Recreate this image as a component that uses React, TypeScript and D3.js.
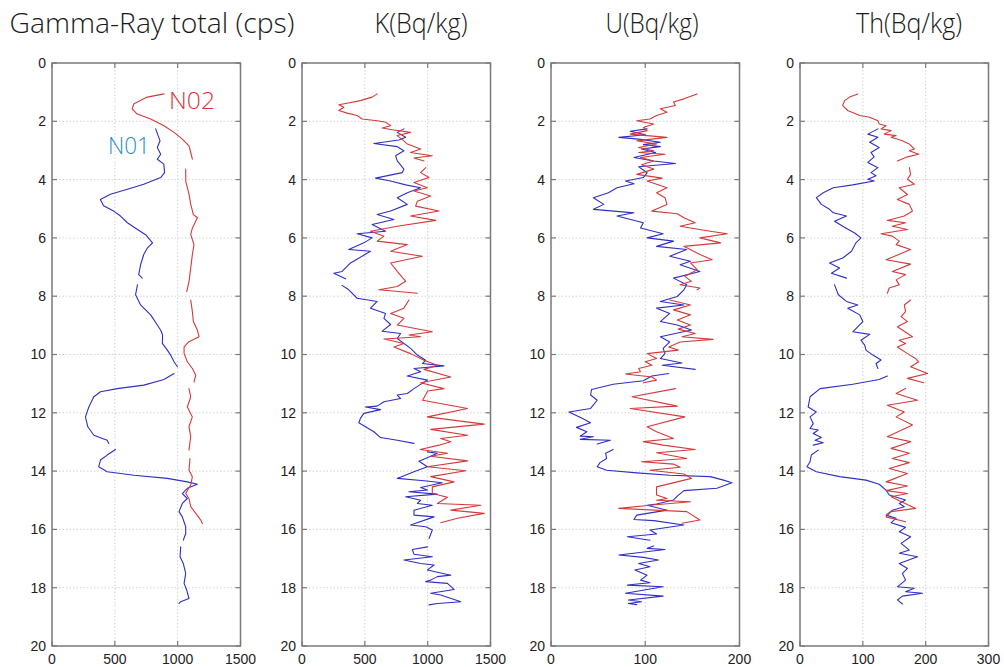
import React from 'react';
import * as d3 from 'd3';

type P = [number, number] | null;

// ---------- text / axes ----------
const titles = ['Gamma-Ray total (cps)', 'K(Bq/kg)', 'U(Bq/kg)', 'Th(Bq/kg)'];
const xMaxes = [1500, 1500, 200, 300];
const xTickValues = [
  [0, 500, 1000, 1500],
  [0, 500, 1000, 1500],
  [0, 100, 200],
  [0, 100, 200, 300],
];
const depthTicks = [0, 2, 4, 6, 8, 10, 12, 14, 16, 18, 20];
const seriesNames = ['N01', 'N02'];

// ---------- data: [depth, value], null = gap ----------
const grN01: P[] = [
  [2.26, 825], [2.67, 860], [2.9, 838], [3.13, 865], [3.3, 838], [3.47, 890], [3.76, 896], [3.93, 865],
  [4.16, 730], [4.33, 600], [4.5, 465], [4.68, 385], [4.9, 410], [5.08, 490], [5.25, 545], [5.48, 600],
  [5.71, 680], [5.89, 745], [6.17, 800], [6.34, 760], [6.57, 730], [6.92, 705], [7.26, 690], [7.38, 718],
  null,
  [7.61, 680], [7.95, 665], [8.3, 705], [8.64, 785], [8.99, 838], [9.17, 865], [9.33, 880], [9.62, 878],
  [9.85, 918], [10.02, 944], [10.25, 971], [10.42, 998],
  null,
  [10.65, 971], [10.86, 891], [11.05, 731], [11.17, 519], [11.28, 386], [11.45, 333], [11.8, 293],
  [12.14, 266], [12.48, 285], [12.77, 333], [12.94, 439], [13.05, 452],
  null,
  [13.26, 505], [13.45, 439], [13.62, 386], [13.85, 372], [14.02, 439], [14.14, 652], [14.25, 918],
  [14.37, 1077], [14.45, 1157], [14.59, 1077], [14.77, 1037], [14.94, 1077], [15.11, 1037], [15.39, 1011],
  [15.57, 1037], [15.91, 1064], [16.14, 1064], [16.37, 1045],
  null,
  [16.6, 1024], [16.94, 1019], [17.17, 1045], [17.51, 1064], [17.85, 1051], [18.08, 1072], [18.37, 1090],
  [18.48, 1024], [18.54, 1011],
];
const grN02: P[] = [
  [1.06, 891], [1.17, 758], [1.4, 652], [1.57, 638], [1.75, 678], [1.92, 785], [2.15, 891], [2.38, 971],
  [2.61, 1037], [2.84, 1090], [3.07, 1104], [3.3, 1117],
  null,
  [3.64, 1064], [4.05, 1064], [4.5, 1090], [4.85, 1104], [5.2, 1125], [5.31, 1157], [5.66, 1117],
  [5.89, 1104], [6.23, 1130], [6.57, 1117], [7.03, 1104], [7.5, 1090], [7.84, 1072],
  null,
  [8.13, 1104], [8.53, 1117], [8.87, 1125], [9.17, 1157], [9.39, 1170], [9.56, 1090], [9.74, 1051],
  [9.97, 1051], [10.25, 1077], [10.48, 1117], [10.71, 1144], [10.94, 1130],
  null,
  [11.17, 1090], [11.45, 1104], [11.8, 1077], [12.14, 1117], [12.48, 1090], [12.82, 1104], [13.28, 1090],
  null,
  [13.57, 1098], [13.97, 1090], [14.19, 1117], [14.48, 1104], [14.77, 1064], [14.94, 1090], [15.22, 1104],
  [15.45, 1144], [15.68, 1184], [15.8, 1197],
];

const kN01: P[] = [
  [2.26, 811], [2.38, 758], [2.55, 825], [2.64, 771], [2.76, 572], [2.87, 758], [3.01, 811], [3.18, 745],
  [3.36, 758], [3.64, 811], [3.76, 798], [3.95, 585], [4.05, 705], [4.18, 825], [4.28, 944], [4.45, 838],
  [4.62, 758], [4.85, 838], [5.08, 705], [5.2, 598], [5.37, 731], [5.54, 558], [5.77, 665], [5.86, 439],
  [6.0, 558], [6.17, 492], [6.4, 372], [6.46, 545], [6.86, 386], [7.15, 319], [7.21, 253], [7.4, 346],
  null,
  [7.63, 319], [7.78, 372], [8.07, 439], [8.18, 598], [8.41, 545], [8.59, 665], [8.76, 652], [8.97, 705],
  [9.2, 638], [9.28, 785], [9.45, 758], [9.79, 864], [10.02, 918], [10.2, 984], [10.31, 958], [10.39, 1130],
  [10.48, 891], [10.59, 944], [10.74, 838], [10.88, 998], [11.17, 891], [11.34, 838], [11.39, 758],
  [11.51, 785], [11.62, 652], [11.77, 598], [11.8, 505], [11.89, 625], [12.02, 492], [12.19, 465],
  [12.34, 452], [12.48, 505], [12.65, 572], [12.85, 625], [12.94, 758], [13.05, 891],
  null,
  [13.34, 998], [13.39, 1077], [13.49, 1024], [13.66, 931], [13.85, 998], [14.02, 891], [14.25, 758],
  [14.33, 971], [14.4, 1117], [14.56, 944], [14.65, 998], [14.71, 851], [14.79, 1077], [14.88, 825],
  [15.0, 944], [15.11, 918], [15.17, 1037], [15.34, 891], [15.51, 891], [15.57, 1051], [15.85, 864],
  [15.91, 984], [16.02, 1037], [16.31, 1011],
  null,
  [16.6, 998], [16.69, 878], [16.85, 891], [16.94, 1037], [17.05, 811], [17.17, 944], [17.22, 1051],
  [17.39, 998], [17.57, 1184], [17.62, 1077], [17.74, 1024], [17.79, 984], [17.85, 1157], [18.06, 1210],
  [18.19, 1024], [18.25, 1104], [18.48, 1264], [18.54, 1077], [18.59, 1011],
];
const kN02: P[] = [
  [1.06, 598], [1.17, 558], [1.29, 465], [1.38, 359], [1.43, 293], [1.52, 333], [1.63, 293], [1.72, 359],
  [1.8, 439], [1.92, 479], [1.98, 598], [2.03, 665], [2.15, 705], [2.23, 638], [2.3, 731], [2.38, 864],
  [2.49, 758], [2.67, 811], [2.78, 838], [2.95, 944], [3.07, 864], [3.18, 1037], [3.26, 891], [3.36, 971],
  null,
  [3.59, 984], [3.76, 944], [3.93, 1011], [4.1, 891], [4.28, 997], [4.39, 891], [4.56, 1024], [4.74, 918],
  [4.91, 904], [5.08, 1090], [5.25, 864], [5.4, 1064], [5.6, 758], [5.77, 545], [5.94, 652], [6.11, 598],
  [6.23, 838], [6.46, 705], [6.63, 958], [6.86, 705], [7.15, 758], [7.49, 825], [7.67, 758], [7.78, 612],
  [7.9, 918],
  null,
  [8.13, 851], [8.41, 811], [8.59, 705], [8.76, 811], [8.99, 758], [9.22, 1037], [9.33, 851], [9.39, 944],
  [9.47, 652], [9.62, 811], [9.74, 731], [9.97, 864], [10.2, 971], [10.37, 1077], [10.51, 971],
  [10.77, 1184], [10.97, 944], [11.17, 1130], [11.25, 1000], [11.57, 960], [11.85, 1317], [12.14, 998],
  [12.39, 1450], [12.57, 1024], [12.77, 1317], [12.88, 1104], [12.99, 1184], [13.11, 1090], [13.26, 940],
  [13.39, 1157], [13.49, 1024], [13.65, 1317], [13.85, 998], [13.99, 1303], [14.19, 1024], [14.37, 1210],
  [14.54, 1037], [14.77, 1037], [14.9, 1157], [15.11, 1077], [15.17, 1423], [15.34, 1184], [15.45, 1450],
  [15.62, 1237], [15.77, 1104],
];

const uN01: P[] = [
  [2.26, 102], [2.34, 84], [2.46, 100], [2.55, 72], [2.61, 93], [2.72, 116], [2.8, 98], [2.87, 116],
  [2.95, 96], [3.07, 111], [3.24, 88], [3.36, 109], [3.45, 132], [3.56, 93], [3.76, 102], [3.93, 98],
  [4.05, 79], [4.14, 88], [4.28, 70], [4.45, 61], [4.62, 45], [4.85, 56], [5.02, 45], [5.14, 88],
  [5.25, 70], [5.48, 98], [5.66, 95], [5.86, 119], [6.0, 102], [6.11, 130], [6.29, 112], [6.4, 144],
  [6.63, 126], [6.8, 148], [6.92, 137], [7.15, 158], [7.38, 130], [7.61, 144], [7.78, 141], [8.01, 134],
  [8.18, 116], [8.3, 141], [8.41, 112], [8.59, 126], [8.87, 116], [8.99, 134], [9.16, 149], [9.39, 116],
  [9.57, 126], [9.79, 119], [9.97, 121], [10.14, 116], [10.29, 139], [10.37, 118], [10.51, 153],
  null,
  [10.65, 125], [10.74, 107], [10.9, 98], [11.02, 66], [11.2, 43], [11.39, 42], [11.57, 49], [11.85, 42],
  [11.97, 19], [12.19, 33], [12.34, 42], [12.5, 27], [12.65, 38], [12.8, 31], [12.82, 45], [12.91, 31],
  [12.94, 63], [13.07, 49],
  null,
  [13.26, 66], [13.39, 58], [13.57, 59], [13.71, 52], [13.85, 49], [13.97, 59], [14.06, 91], [14.14, 126],
  [14.19, 169], [14.31, 183], [14.4, 192], [14.59, 176], [14.67, 141], [14.86, 134], [14.99, 130],
  [15.13, 112], [15.17, 102], [15.34, 123], [15.51, 91], [15.66, 88], [15.7, 109], [15.85, 141],
  [16.02, 105], [16.16, 112], [16.25, 81], [16.37, 105],
  null,
  [16.57, 109], [16.65, 102], [16.69, 121], [16.88, 72], [16.96, 98], [17.05, 114], [17.17, 93],
  [17.28, 105], [17.39, 89], [17.57, 102], [17.74, 95], [17.83, 105], [17.91, 81], [17.97, 119],
  [18.19, 79], [18.29, 119], [18.42, 82], [18.48, 96], [18.54, 82], [18.58, 91],
];
const uN02: P[] = [
  [1.06, 155], [1.23, 141], [1.34, 130], [1.46, 132], [1.57, 116], [1.69, 123], [1.8, 112], [1.92, 105],
  [1.98, 91], [2.09, 109], [2.21, 98], [2.32, 102], [2.44, 84], [2.55, 123], [2.67, 91], [2.78, 112],
  [2.9, 93], [3.01, 109], [3.07, 93], [3.13, 121], [3.24, 95], [3.36, 109], [3.49, 96], [3.64, 109],
  [3.82, 91], [3.95, 118], [4.05, 102], [4.28, 123], [4.45, 112], [4.62, 121], [4.85, 123], [5.08, 107],
  [5.17, 134], [5.31, 141], [5.48, 153], [5.6, 137], [5.77, 169], [5.86, 187], [6.0, 158], [6.17, 180],
  [6.29, 141], [6.57, 158], [6.75, 171], [6.86, 148], [7.09, 155], [7.32, 142], [7.49, 149], [7.61, 137],
  [7.72, 158], [7.78, 155],
  null,
  [8.13, 126], [8.3, 148], [8.47, 130], [8.64, 148], [8.82, 134], [8.99, 148], [9.13, 135], [9.28, 153],
  [9.39, 139], [9.48, 172], [9.57, 137], [9.74, 125], [9.85, 135], [9.97, 102], [10.14, 112], [10.25, 100],
  [10.37, 107], [10.48, 93], [10.59, 95], [10.67, 79], [10.77, 107], [10.88, 112], [10.97, 98],
  null,
  [11.17, 132], [11.45, 86], [11.77, 134], [11.85, 84], [12.14, 142], [12.48, 102], [12.65, 112],
  [12.88, 130], [12.99, 98], [13.11, 119], [13.26, 153], [13.37, 112], [13.57, 144], [13.68, 96],
  [13.76, 130], [13.87, 137], [13.97, 105], [14.1, 141], [14.25, 149], [14.54, 112], [14.82, 112],
  [14.94, 123], [15.0, 112], [15.05, 148], [15.17, 105], [15.28, 72], [15.39, 144], [15.68, 158],
  [15.79, 139],
];

const thN01: P[] = [
  [2.26, 124], [2.44, 108], [2.55, 124], [2.72, 111], [2.9, 126], [3.07, 113], [3.22, 118], [3.41, 108],
  [3.59, 124], [3.76, 113], [3.87, 121], [3.99, 108], [4.05, 118], [4.18, 84], [4.28, 53], [4.45, 37],
  [4.62, 26], [4.85, 34], [5.02, 47], [5.14, 53], [5.25, 74], [5.43, 55], [5.6, 68], [5.83, 87], [6.0, 97],
  [6.17, 89], [6.46, 82], [6.69, 68], [6.86, 47], [7.03, 63], [7.21, 50], [7.38, 74],
  null,
  [7.61, 55], [7.95, 61], [8.18, 74], [8.3, 92], [8.41, 76], [8.64, 95], [8.87, 100], [9.22, 84],
  [9.31, 111], [9.51, 97], [9.68, 103], [9.85, 105], [10.02, 116], [10.19, 129], [10.31, 121], [10.48, 124],
  null,
  [10.74, 139], [10.86, 126], [11.02, 84], [11.17, 32], [11.45, 16], [11.8, 13], [11.97, 26], [12.14, 16],
  [12.37, 21], [12.54, 16], [12.59, 29], [12.71, 21], [12.85, 34], [12.94, 24], [13.03, 37], [13.11, 21],
  null,
  [13.28, 29], [13.45, 18], [13.68, 16], [13.85, 11], [14.02, 26], [14.19, 63], [14.31, 105], [14.45, 126],
  [14.65, 137], [14.82, 142], [14.99, 168], [15.11, 158], [15.22, 166], [15.34, 147], [15.51, 137],
  [15.62, 153], [15.77, 145], [15.93, 168], [16.08, 158], [16.25, 176], [16.48, 161], [16.71, 174],
  [16.82, 158], [16.94, 187], [17.17, 158], [17.34, 171], [17.51, 163], [17.74, 168], [17.97, 155],
  [18.02, 182], [18.14, 168], [18.19, 195], [18.29, 163], [18.42, 155], [18.56, 163],
];
const thN02: P[] = [
  [1.06, 92], [1.17, 79], [1.29, 71], [1.46, 68], [1.63, 76], [1.8, 95], [1.86, 111], [1.98, 124],
  [2.09, 126], [2.15, 137], [2.26, 129], [2.32, 145], [2.44, 134], [2.49, 153], [2.55, 145], [2.67, 163],
  [2.78, 174], [2.95, 182], [3.01, 174], [3.13, 189], [3.22, 171], [3.36, 155],
  null,
  [3.59, 174], [3.82, 176], [3.99, 171], [4.16, 182], [4.28, 158], [4.51, 171], [4.68, 155], [4.85, 174],
  [5.08, 179], [5.25, 166], [5.4, 139], [5.48, 168], [5.6, 147], [5.71, 171], [5.86, 129], [5.94, 147],
  [6.11, 158], [6.23, 153], [6.4, 176], [6.75, 137], [6.9, 176], [7.15, 147], [7.26, 168], [7.44, 153],
  [7.61, 158], [7.72, 142], [7.9, 139],
  null,
  [8.13, 176], [8.3, 166], [8.53, 168], [8.7, 161], [8.87, 171], [9.05, 155], [9.39, 179], [9.51, 158],
  [9.62, 168], [9.74, 155], [9.97, 171], [10.14, 184], [10.25, 189], [10.42, 176], [10.65, 203],
  [10.82, 171], [10.97, 197],
  null,
  [11.17, 168], [11.34, 153], [11.57, 187], [11.74, 139], [11.97, 166], [12.14, 153], [12.42, 179],
  [12.82, 139], [12.99, 176], [13.22, 145], [13.39, 174], [13.57, 147], [13.71, 174], [13.91, 142],
  [14.08, 171], [14.37, 137], [14.51, 171], [14.67, 137], [14.77, 171], [14.88, 145], [15.28, 184],
  [15.39, 145], [15.57, 137], [15.74, 168],
];

const panelSeries: P[][][] = [
  [grN01, grN02],
  [kN01, kN02],
  [uN01, uN02],
  [thN01, thN02],
];

// ---------- layout / style ----------
const W = 1004;
const H = 667;
const panelLefts = [52, 302, 551, 800];
const panelW = 188.5;
const top = 63;
const bottom = 646;
const titleCenters = [152, 421, 652, 909];
const titleWidths = [285, 93, 93, 106];
const lineColors = ['#2f2fc4', '#d43a3a'];
const frameColor = '#7a7a7a';
const labelFont = "'Liberation Sans', Arial, sans-serif";
const titleFont = "'Open Sans', 'DejaVu Sans', sans-serif";

export default function App() {
  const y = d3.scaleLinear().domain([0, 20]).range([top, bottom]);
  return (
    <svg
      width={W}
      height={H}
      viewBox={`0 0 ${W} ${H}`}
      style={{ position: 'absolute', left: 0, top: 0, background: '#fff' }}
    >
      <rect x={0} y={0} width={W} height={H} fill="#fff" />
      {panelLefts.map((left, pi) => {
        const x = d3.scaleLinear().domain([0, xMaxes[pi]]).range([left, left + panelW]);
        const line = d3
          .line<P>()
          .defined((d) => d !== null)
          .x((d) => x((d as [number, number])[1]))
          .y((d) => y((d as [number, number])[0]));
        return (
          <g key={pi}>
            {/* grid */}
            {depthTicks.slice(1, -1).map((t) => (
              <line key={'h' + t} x1={left} x2={left + panelW} y1={y(t)} y2={y(t)}
                stroke="#c8c8c8" strokeWidth={0.8} strokeDasharray="1.5,2" />
            ))}
            {xTickValues[pi].slice(1, -1).map((t) => (
              <line key={'v' + t} x1={x(t)} x2={x(t)} y1={top} y2={bottom}
                stroke="#c8c8c8" strokeWidth={0.8} strokeDasharray="1.5,2" />
            ))}
            {/* tick marks inside the frame */}
            {depthTicks.map((t) => (
              <g key={'tm' + t}>
                <line x1={left} x2={left + 5} y1={y(t)} y2={y(t)} stroke={frameColor} strokeWidth={1.2} />
                <line x1={left + panelW - 5} x2={left + panelW} y1={y(t)} y2={y(t)} stroke={frameColor} strokeWidth={1.2} />
              </g>
            ))}
            {xTickValues[pi].map((t) => (
              <g key={'xm' + t}>
                <line x1={x(t)} x2={x(t)} y1={top} y2={top + 5} stroke={frameColor} strokeWidth={1.2} />
                <line x1={x(t)} x2={x(t)} y1={bottom - 5} y2={bottom} stroke={frameColor} strokeWidth={1.2} />
              </g>
            ))}
            {/* data */}
            {panelSeries[pi].map((s, si) => (
              <path key={si} d={line(s) || ''} fill="none" stroke={lineColors[si]}
                strokeWidth={1.1} strokeLinejoin="round" strokeLinecap="round" />
            ))}
            {/* frame */}
            <rect x={left} y={top} width={panelW} height={bottom - top} fill="none"
              stroke={frameColor} strokeWidth={1.5} />
            {/* tick labels */}
            {depthTicks.map((t) => (
              <text key={'yl' + t} x={left - 6} y={y(t)} dy="0.35em" textAnchor="end"
                fontFamily={labelFont} fontSize={14} fill="#222">
                {t}
              </text>
            ))}
            {xTickValues[pi].map((t) => (
              <text key={'xl' + t} x={x(t)} y={664} textAnchor="middle"
                fontFamily={labelFont} fontSize={14} fill="#222">
                {t}
              </text>
            ))}
            {/* title */}
            <text x={titleCenters[pi]} y={33} textAnchor="middle"
              fontFamily={titleFont} fontSize={27} fontWeight={300} fill="#1a1a1a"
              textLength={titleWidths[pi]} lengthAdjust="spacingAndGlyphs">
              {titles[pi]}
            </text>
          </g>
        );
      })}
      {/* series labels */}
      <text x={169} y={109} fontFamily={titleFont} fontSize={24} fontWeight={300}
        fill="#d8393b" textLength={46} lengthAdjust="spacingAndGlyphs">{seriesNames[1]}</text>
      <text x={108} y={154} fontFamily={titleFont} fontSize={24} fontWeight={300}
        fill="#2a8fc4" textLength={42} lengthAdjust="spacingAndGlyphs">{seriesNames[0]}</text>
    </svg>
  );
}
